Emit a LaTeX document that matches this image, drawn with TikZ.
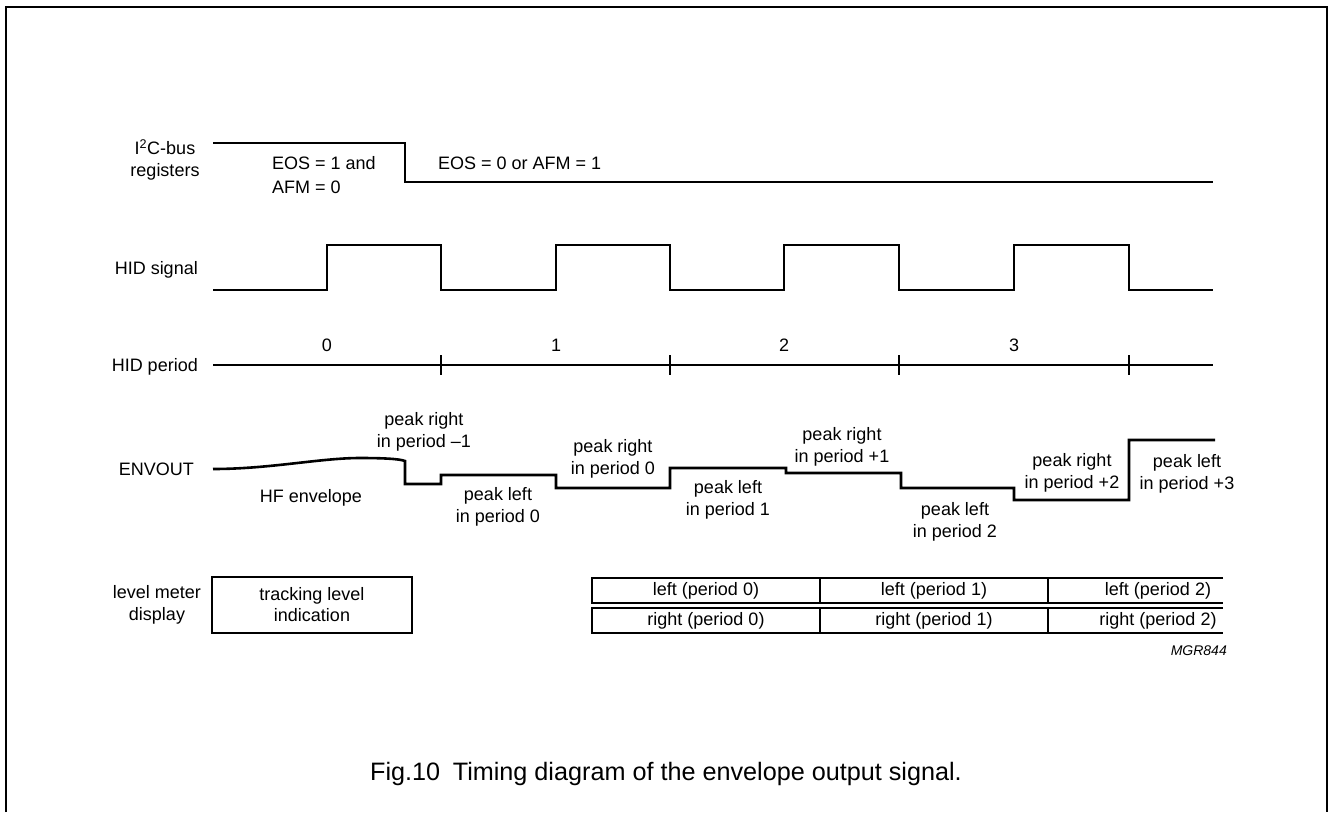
\documentclass[tikz,border=0pt]{standalone}
\usepackage{fontspec}
\setmainfont{Liberation Sans}
\begin{document}
\begin{tikzpicture}[x=1pt,y=-1pt,
  lbl/.style={font=\fontsize{18}{22.5}\selectfont, inner sep=0pt, align=center},
  wave/.style={line width=2.6pt, line join=miter},
  axis/.style={line width=1.6pt},
  tick/.style={line width=2.2pt},
  cell/.style={line width=1.8pt},
  frame/.style={line width=2pt}]
\useasboundingbox (0,0) rectangle (1328,812);
% frame
\coordinate (f1) at (6,812); \coordinate (f2) at (6,7);
\coordinate (f3) at (1327,7); \coordinate (f4) at (1327,812);
\draw[frame] (f1) -- (f2) -- (f3) -- (f4);

% left labels
\node[lbl, anchor=center] (lab1) at (165,160) {I\textsuperscript{2}C-bus\\registers};
\node[lbl, anchor=base east] (lab2) at (198,274) {HID signal};
\node[lbl, anchor=base east] (lab3) at (198,371) {HID period};
\node[lbl, anchor=base east] (lab4) at (194,475) {ENVOUT};
\node[lbl, anchor=center] (lab5) at (157,605) {level meter\\display};

% I2C-bus registers line
\coordinate (r0) at (213,143); \coordinate (r1) at (405,143);
\coordinate (r2) at (405,182); \coordinate (r3) at (1213,182);
\draw[wave] (r0) -- (r1) -- (r2) -- (r3);
\node[lbl, align=left, anchor=base west] (eos1) at (272,169) {EOS = 1 and};
\node[lbl, align=left, anchor=base west] (eos2) at (272,193) {AFM = 0};
\node[lbl, anchor=base west] (eos3) at (438,169) {EOS = 0 or AFM = 1};

% HID signal
\draw[wave] (213,290) -- (327,290) -- (327,245) -- (441,245) -- (441,290)
  -- (556,290) -- (556,245) -- (670,245) -- (670,290)
  -- (784,290) -- (784,245) -- (899,245) -- (899,290)
  -- (1014,290) -- (1014,245) -- (1129,245) -- (1129,290) -- (1213,290);

% HID period axis
\coordinate (a0) at (213,365); \coordinate (a1) at (1213,365);
\draw[axis] (a0) -- (a1);
\foreach \x in {441,670,899,1129} \draw[tick] (\x,355) -- (\x,375);
\node[lbl, anchor=base] (p0) at (327,351) {0};
\node[lbl, anchor=base] (p1) at (556,351) {1};
\node[lbl, anchor=base] (p2) at (784,351) {2};
\node[lbl, anchor=base] (p3) at (1014,351) {3};

% ENVOUT
\draw[wave] (213,469) .. controls (270,469) and (320,458) .. (360,458)
  .. controls (385,458) and (400,459) .. (405,461)
  -- (405,484) -- (441,484) -- (441,475) -- (556,475) -- (556,488)
  -- (670,488) -- (670,468) -- (786,468) -- (786,473) -- (901,473)
  -- (901,488) -- (1014,488) -- (1014,500) -- (1129,500) -- (1129,440) -- (1215,440);

\node[lbl] (e1) at (424,432) {peak right\\in period \textendash1};
\node[lbl, anchor=base] (e2) at (311,502) {HF envelope};
\node[lbl] (e3) at (498,507) {peak left\\in period 0};
\node[lbl] (e4) at (613,459) {peak right\\in period 0};
\node[lbl] (e5) at (728,500) {peak left\\in period 1};
\node[lbl] (e6) at (842,447) {peak right\\in period +1};
\node[lbl] (e7) at (955,522) {peak left\\in period 2};
\node[lbl] (e8) at (1072,473) {peak right\\in period +2};
\node[lbl] (e9) at (1187,474) {peak left\\in period +3};

% level meter display
\node[draw, cell, minimum width=200pt, minimum height=56pt, inner sep=0pt,
  font=\fontsize{18}{21}\selectfont, align=center] (trk) at (312,605) {tracking level\\indication};

\draw[cell] (1223,578) -- (592,578) -- (592,603) -- (1223,603);
\draw[cell] (1223,608) -- (592,608) -- (592,633) -- (1223,633);
\foreach \x in {820,1048} {\draw[cell] (\x,578) -- (\x,603); \draw[cell] (\x,608) -- (\x,633);}
\node[lbl] (c1) at (706,590.5) {left (period 0)};
\node[lbl] (c2) at (934,590.5) {left (period 1)};
\node[lbl] (c3) at (1158,590.5) {left (period 2)};
\node[lbl] (c4) at (706,620.5) {right (period 0)};
\node[lbl] (c5) at (934,620.5) {right (period 1)};
\node[lbl] (c6) at (1158,620.5) {right (period 2)};

\node[inner sep=0pt, anchor=base east, font=\fontsize{14}{16}\selectfont\itshape] (mgr) at (1227,655) {MGR844};

\node[inner sep=0pt, anchor=base west, font=\fontsize{25.2}{28}\selectfont] (cap) at (370,780) {Fig.10\hspace{0.5em}Timing diagram of the envelope output signal.};
\end{tikzpicture}
\end{document}
